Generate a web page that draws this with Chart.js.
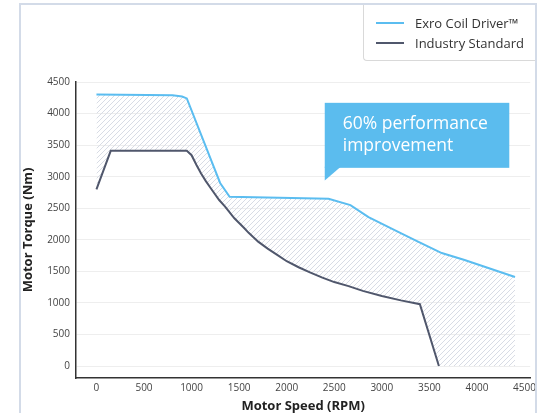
<!DOCTYPE html>
<html>
<head>
<meta charset="utf-8">
<script src="https://cdn.jsdelivr.net/npm/chart.js@4/dist/chart.umd.min.js"></script>
<style>
    body { margin: 0; background: #fff; font-family: 'Open Sans', sans-serif; }
    #wrap { position: relative; width: 540px; height: 413px; overflow: hidden; }
    #frame {
        position: absolute; left: 19px; top: 3px; width: 514px; height: 430px;
        border: 2px solid #d3dbe8; border-bottom: none;
    }
    #legend {
        position: absolute; left: 363px; top: 5px; width: 172px; height: 56px;
        border-left: 1px solid #d9d9d9; border-bottom: 1px solid #d9d9d9;
        border-bottom-left-radius: 4px; box-sizing: border-box;
    }
    .legend-item { position: absolute; left: 12px; height: 20px; display: flex; align-items: center; }
    .legend-item span.swatch { display: inline-block; width: 28px; height: 2px; margin-right: 11px; }
    .legend-item span.label { font-size: 13px; color: #333; white-space: nowrap; }
</style>
</head>
<body>
<div id="wrap">
    <canvas id="torqueChart" width="540" height="413"></canvas>
    <div id="frame"></div>
    <div id="legend"></div>
</div>
<script>
const rpmTicks = [0, 500, 1000, 1500, 2000, 2500, 3000, 3500, 4000, 4500];
const torqueTicks = [0, 500, 1000, 1500, 2000, 2500, 3000, 3500, 4000, 4500];

const exroLabel = 'Exro Coil Driver™';
const exroSpeed = [0, 800, 900, 950, 1300, 1400, 2440, 2670, 2860, 3140, 3380, 3630, 3870, 4400];
const exroTorque = [4300, 4290, 4270, 4240, 2900, 2680, 2650, 2550, 2360, 2150, 1970, 1790, 1680, 1410];

const industryLabel = 'Industry Standard';
const industrySpeed = [0, 150, 950, 1000, 1050, 1100, 1150, 1200, 1290, 1350, 1450, 1550, 1600, 1700, 1800, 1900, 2000, 2125, 2250, 2375, 2500, 2650, 2800, 3000, 3200, 3400, 3600];
const industryTorque = [2800, 3410, 3410, 3340, 3190, 3050, 2930, 2820, 2630, 2530, 2340, 2190, 2110, 1970, 1860, 1760, 1660, 1565, 1480, 1400, 1330, 1266, 1190, 1110, 1040, 980, 0];

const calloutText = ['60% performance', 'improvement'];

const blue = '#5bbdf0';
const slate = '#50576c';

function toPoints(xs, ys) {
    return xs.map((x, i) => ({ x: x, y: ys[i] }));
}

function makeHatch() {
    const c = document.createElement('canvas');
    c.width = 5;
    c.height = 5;
    const g = c.getContext('2d');
    g.strokeStyle = '#d8dce5';
    g.lineWidth = 1;
    g.beginPath();
    g.moveTo(0, 5); g.lineTo(5, 0);
    g.moveTo(-1, 1); g.lineTo(1, -1);
    g.moveTo(4, 6); g.lineTo(6, 4);
    g.stroke();
    return g.createPattern(c, 'repeat');
}

// lower edge of the shaded gap: industry line, then the zero line out to the end of exro
const lowerEdge = toPoints(industrySpeed, industryTorque)
    .concat([{ x: exroSpeed[exroSpeed.length - 1], y: 0 }]);

const calloutPlugin = {
    id: 'callout',
    afterDraw(chart) {
        const { ctx, scales } = chart;
        const left = scales.x.getPixelForValue(2400);
        const right = scales.x.getPixelForValue(4340);
        const top = scales.y.getPixelForValue(4170);
        const bottom = scales.y.getPixelForValue(3140);
        const tip = scales.y.getPixelForValue(2940);
        ctx.save();
        ctx.fillStyle = '#5bbcee';
        ctx.fillRect(left, top, right - left, bottom - top);
        ctx.beginPath();
        ctx.moveTo(left, bottom - 1);
        ctx.lineTo(left + 16, bottom - 1);
        ctx.lineTo(left, tip);
        ctx.closePath();
        ctx.fill();
        ctx.fillStyle = '#fff';
        ctx.font = '17.5px "Open Sans"';
        ctx.textBaseline = 'alphabetic';
        ctx.fillText(calloutText[0], left + 18, top + 26);
        ctx.fillText(calloutText[1], left + 18, top + 48);
        ctx.restore();
    }
};

const plainTick = (value) => String(value);

const ctx = document.getElementById('torqueChart').getContext('2d');
const torqueChart = new Chart(ctx, {
    type: 'line',
    data: {
        datasets: [{
            label: exroLabel,
            data: toPoints(exroSpeed, exroTorque),
            borderColor: blue,
            borderWidth: 2,
            pointRadius: 0,
            backgroundColor: makeHatch(),
            fill: { target: 2 },
        }, {
            label: industryLabel,
            data: toPoints(industrySpeed, industryTorque),
            borderColor: slate,
            borderWidth: 2,
            pointRadius: 0,
            fill: false,
        }, {
            label: 'gap',
            data: lowerEdge,
            borderWidth: 0,
            borderColor: 'rgba(0,0,0,0)',
            pointRadius: 0,
            fill: false,
        }]
    },
    options: {
        responsive: false,
        animation: false,
        layout: { padding: { left: 20, top: 82, right: 4, bottom: 0 } },
        plugins: {
            legend: { display: false },
            tooltip: { enabled: false },
            filler: { drawTime: 'beforeDatasetsDraw' },
        },
        scales: {
            x: {
                type: 'linear',
                min: -215,
                max: 4560,
                afterBuildTicks: (scale) => { scale.ticks = rpmTicks.map(v => ({ value: v })); },
                afterFit: (scale) => { scale.height = 35; },
                grid: { display: false, drawTicks: false },
                border: { display: true, color: '#333', width: 1.5 },
                ticks: { padding: 4, color: '#444', font: { family: 'Open Sans', size: 10 }, callback: plainTick },
                title: {
                    display: true,
                    text: 'Motor Speed (RPM)',
                    color: '#222',
                    padding: { top: 0, bottom: 0 },
                    font: { family: 'Open Sans', size: 13, weight: 'bold', lineHeight: 1 },
                },
            },
            y: {
                type: 'linear',
                min: -190,
                max: 4500,
                afterBuildTicks: (scale) => { scale.ticks = torqueTicks.map(v => ({ value: v })); },
                afterFit: (scale) => { scale.width = 56; },
                grid: { color: '#eeeeee', drawTicks: false },
                border: { display: true, color: '#333', width: 1.5 },
                ticks: { padding: 6, color: '#444', font: { family: 'Open Sans', size: 10 }, callback: plainTick },
                title: {
                    display: true,
                    text: 'Motor Torque (Nm)',
                    color: '#222',
                    padding: { top: 2, bottom: 0 },
                    font: { family: 'Open Sans', size: 13, weight: 'bold', lineHeight: 1 },
                },
            },
        },
    },
    plugins: [calloutPlugin],
});

// html legend built from the two visible series
const legendBox = document.getElementById('legend');
torqueChart.data.datasets.slice(0, 2).forEach((ds, i) => {
    const item = document.createElement('div');
    item.className = 'legend-item';
    item.style.top = (8 + i * 20) + 'px';
    item.innerHTML = '<span class="swatch" style="background:' + ds.borderColor + '"></span>' +
        '<span class="label">' + ds.label + '</span>';
    legendBox.appendChild(item);
});
</script>
</body>
</html>
